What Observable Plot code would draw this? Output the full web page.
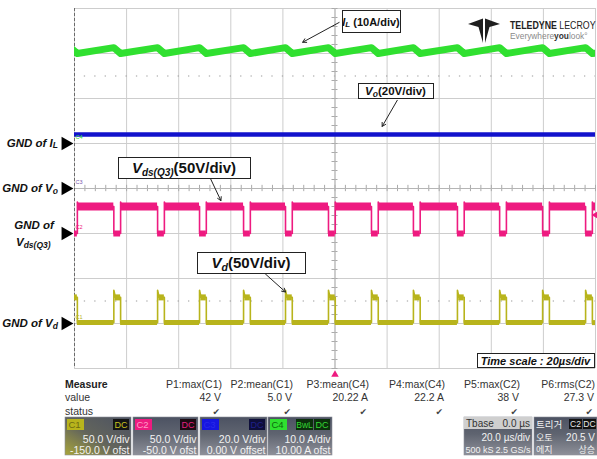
<!DOCTYPE html>
<html><head><meta charset="utf-8">
<script src="https://cdn.jsdelivr.net/npm/d3@7"></script>
<script src="https://cdn.jsdelivr.net/npm/@observablehq/plot@0.6"></script>
<style>
body{margin:0;background:#fff;}
svg{display:block;}
</style>
</head><body><div id="chart"></div>
<script>
// ---- grid (20 µs/div horizontally, 8 divisions vertically)
const timeGrid = [0,20,40,60,80,100,120,140,160,180,200];
const divGrid = [-4,-3,-2,-1,0,1,2,3,4];
// ---- channels: C1 = Vd, C2 = Vds(Q3), C3 = Vo, C4 = IL
const channelIds = ["C1","C2","C3","C4"];
const channelPerDiv = [50, 50, 20, 10];
const channelOffset = [-150, -50, 0, 10];
const channelUnit = ["V","V","V","A"];
const channelColor = ["#b8b41c","#ee1b80","#1212cc","#30e030"];
const channelDivText = ["50.0 V/div","50.0 V/div","20.0 V/div","10.0 A/div"];
const channelOfstText = ["-150.0 V ofst","-50.0 V ofst","0.00 V offset","10.00 A ofst"];
// ---- switching edges (µs) and pulse width
const pulseStarts = [-1.5, 15.1, 31.9, 48.0, 64.9, 81.0, 97.5, 114.0, 130.1, 147.0, 163.2, 179.7, 196.2];
const pulseWidth = 2.6;
// ---- levels
const vdsLevels = [30, 0, 35];   // high, low, overshoot (V)
const vdLevels = [29, 1, 37];    // plateau, low, spike (V)
const ilLevels = [21.3, 20.0];   // peak, trough (A)
const voLevel = 24;              // V
const triggerLevel = 20.5;       // V on C2
// ---- measurements
const measureLabels = ["P1:max(C1)","P2:mean(C1)","P3:mean(C4)","P4:max(C4)","P5:max(C2)","P6:rms(C2)"];
const measureValues = ["42 V","5.0 V","20.22 A","22.2 A","38 V","27.3 V"];

const FONT = '"Liberation Sans", Arial, sans-serif';
const toDiv = (ch, v) => (v + channelOffset[ch]) / channelPerDiv[ch];
const T0 = 0, T1 = 200;

// Vds (C2) waveform
const vdsPts = [], vdsHigh = [], vdsLow = [];
pulseStarts.forEach((s, k) => {
  const e = s + pulseWidth;
  if (s < T0) vdsPts.push({t: T0, v: vdsLevels[1]});
  else { vdsPts.push({t: s, v: vdsLevels[0]}, {t: s, v: vdsLevels[1]}); }
  vdsPts.push({t: e, v: vdsLevels[1]}, {t: e, v: vdsLevels[2]}, {t: e + 0.5, v: vdsLevels[0]});
  vdsLow.push({x1: Math.max(T0, s), x2: e, y: toDiv(1, vdsLevels[1])});
  const next = k + 1 < pulseStarts.length ? pulseStarts[k + 1] : T1;
  vdsHigh.push({x1: e + 0.3, x2: next, y: toDiv(1, vdsLevels[0])});
});
vdsPts.push({t: T1, v: vdsLevels[0]});

// Vd (C1) waveform
const vdPts = [], vdHigh = [], vdLow = [];
pulseStarts.forEach((s, k) => {
  const e = s + pulseWidth;
  if (s < T0) vdPts.push({t: T0, v: vdLevels[0]});
  else { vdPts.push({t: s, v: vdLevels[1]}, {t: s, v: vdLevels[2]}, {t: s + 0.6, v: vdLevels[0]}); }
  vdPts.push({t: e, v: vdLevels[0]}, {t: e, v: vdLevels[1]});
  vdHigh.push({x1: Math.max(T0, s + 0.5), x2: e, y: toDiv(0, vdLevels[0])});
  const next = k + 1 < pulseStarts.length ? pulseStarts[k + 1] : T1;
  vdLow.push({x1: e, x2: next, y: toDiv(0, vdLevels[1])});
});
vdPts.push({t: T1, v: vdLevels[1]});

// IL (C4) sawtooth
const ilPts = [];
pulseStarts.forEach(s => { ilPts.push({t: s, v: ilLevels[0]}, {t: s + pulseWidth, v: ilLevels[1]}); });
ilPts.push({t: 204, v: ilLevels[1] + (ilLevels[0] - ilLevels[1]) * 0.3});

const minorDiv = d3.range(-4, 4.001, 0.2);
const minorT = d3.range(0, 200.001, 4);

const plot = Plot.plot({
  width: 597, height: 459,
  marginLeft: 74, marginRight: 2, marginTop: 8, marginBottom: 91,
  style: {fontFamily: FONT, background: "#fff"},
  x: {domain: [T0, T1], axis: null},
  y: {domain: [-4, 4], axis: null},
  marks: [
    Plot.ruleX(timeGrid, {stroke: "#cdcdcd", strokeWidth: 1}),
    Plot.ruleY(divGrid, {stroke: "#cdcdcd", strokeWidth: 1}),
    Plot.ruleY([2.5, -2.5], {stroke: "#9a9a9a", strokeWidth: 1.2, strokeDasharray: "1.3,9.12", strokeDashoffset: -9.8}),
    Plot.ruleY(minorDiv, {x1: 100 - 1.15, x2: 100 + 1.15, stroke: "#aaaaaa"}),
    Plot.ruleX(minorT, {y1: -0.07, y2: 0.07, stroke: "#aaaaaa"}),
    Plot.ruleY([0], {stroke: "#b5b5b5"}),
    Plot.ruleX([100], {stroke: "#b5b5b5"}),
    Plot.ruleX([0], {stroke: "#6a6a6a", strokeDasharray: "3,2"}),
    // Vd (C1)
    Plot.ruleY(vdLow, {x1: "x1", x2: "x2", y: "y", stroke: channelColor[0], strokeWidth: 5, clip: true}),
    Plot.ruleY(vdHigh, {x1: "x1", x2: "x2", y: "y", stroke: channelColor[0], strokeWidth: 6, clip: true}),
    Plot.line(vdPts, {x: "t", y: d => toDiv(0, d.v), stroke: channelColor[0], strokeWidth: 1.6, clip: true}),
    // Vds (C2)
    Plot.ruleY(vdsHigh, {x1: "x1", x2: "x2", y: "y", stroke: channelColor[1], strokeWidth: 8, clip: true}),
    Plot.ruleY(vdsLow, {x1: "x1", x2: "x2", y: "y", stroke: channelColor[1], strokeWidth: 6, clip: true}),
    Plot.line(vdsPts, {x: "t", y: d => toDiv(1, d.v), stroke: channelColor[1], strokeWidth: 1.6, clip: true}),
    // Vo (C3)
    Plot.ruleY([toDiv(2, voLevel)], {x1: T0, x2: T1, stroke: channelColor[2], strokeWidth: 4.5}),
    // IL (C4)
    Plot.line(ilPts, {x: "t", y: d => toDiv(3, d.v), stroke: channelColor[3], strokeWidth: 7, strokeLinejoin: "round", clip: true}),
    // ground markers
    Plot.dot(channelIds, {x: () => T0, y: (d, i) => toDiv(i, 0), symbol: "triangle", r: 5.1, rotate: 90, fill: "black", stroke: "none", dx: -9}),
    Plot.text(channelIds, {x: () => T0, y: (d, i) => toDiv(i, 0), text: d => d, fontSize: 5.5, fill: (d, i) => i === 2 ? "#7a5ab0" : channelColor[i], dx: 1, dy: -6, textAnchor: "start"}),
    // trigger level & position
    Plot.dot([triggerLevel], {x: () => T1, y: d => toDiv(1, d), symbol: "triangle", rotate: -90, r: 2.6, fill: channelColor[1], stroke: "none", dx: 0}),
    Plot.dot([0], {x: () => 100, y: () => -4, symbol: "triangle", r: 2.8, fill: channelColor[1], stroke: "none", dy: 6}),
    // annotation arrows
    Plot.arrow([
      {x1: 101.6, y1: 3.69, x2: 87.6, y2: 3.25},
      {x1: 123.9, y1: 1.96, x2: 118.1, y2: 1.38},
      {x1: 52.2, y1: 0.22, x2: 56.2, y2: -0.27},
      {x1: 73.3, y1: -1.90, x2: 81.0, y2: -2.30}
    ], {x1: "x1", y1: "y1", x2: "x2", y2: "y2", stroke: "#222", strokeWidth: 1, headLength: 6})
  ]
});
document.getElementById("chart").appendChild(plot);

const svg = d3.select(plot);
const X = plot.scale("x"), Y = plot.scale("y");
const g = svg.append("g").attr("text-anchor", "start").attr("font-family", FONT);

// --- labeled boxes with mixed styles
function richText(parent, x, y, parts, anchor) {
  const t = parent.append("text").attr("x", x).attr("y", y).attr("text-anchor", anchor || "middle").attr("fill", "#111");
  parts.forEach(p => {
    const s = t.append("tspan").text(p.s).attr("font-size", p.size).attr("font-weight", p.w || "bold").attr("font-style", p.i ? "italic" : "normal");
    if (p.dy) s.attr("dy", p.dy);
  });
  return t;
}
function box(x, y, w, h) {
  g.append("rect").attr("x", x + 0.5).attr("y", y + 0.5).attr("width", w).attr("height", h)
    .attr("fill", "#fff").attr("stroke", "#222").attr("stroke-width", 1);
}
box(342, 10, 58, 22);
richText(g, 371, 25.5, [{s: "I", size: 11, i: true}, {s: "L", size: 8, i: true, dy: 1}, {s: " (10A/div)", size: 11, dy: -1}]);
box(358, 83, 75, 15);
richText(g, 395.5, 95, [{s: "V", size: 11.5, i: true}, {s: "o", size: 8.5, i: true, dy: 1.5}, {s: "(20V/div)", size: 11.5, dy: -1.5}]);
box(118, 157, 132, 21);
richText(g, 184, 173, [{s: "V", size: 15, i: true}, {s: "ds(Q3)", size: 10, i: true, dy: 3}, {s: "(50V/div)", size: 15, dy: -3}]);
box(197, 252, 108, 21);
richText(g, 251, 268, [{s: "V", size: 15, i: true}, {s: "d", size: 10.5, i: true, dy: 2.5}, {s: "(50V/div)", size: 15, dy: -2.5}]);
box(477, 353, 117, 14);
richText(g, 535.5, 364.5, [{s: "Time scale : 20µs/div", size: 11, i: true}]);

// --- ground labels
const gy = i => Y.apply(toDiv(i, 0));
richText(g, 58, gy(3) + 4, [{s: "GND of I", size: 11.5, i: true}, {s: "L", size: 8.5, i: true, dy: 1}], "end");
richText(g, 58, gy(2) + 4, [{s: "GND of V", size: 11.5, i: true}, {s: "o", size: 8.5, i: true, dy: 1.5}], "end");
richText(g, 34, gy(1) - 4, [{s: "GND of", size: 11.5, i: true}], "middle");
richText(g, 16, gy(1) + 13, [{s: "V", size: 11.5, i: true}, {s: "ds(Q3)", size: 8.5, i: true, dy: 2}], "start");
richText(g, 58, gy(0) + 4, [{s: "GND of V", size: 11.5, i: true}, {s: "d", size: 8.5, i: true, dy: 1.5}], "end");

// --- logo
const lg = g.append("g").attr("fill", "#1e1e1e");
lg.append("path").attr("d", "M468,24 L483,18.5 L483,43 L478.5,27 Z");
lg.append("path").attr("d", "M500,24 L485,18.5 L485,43 L489.5,27 Z");
const lt = g.append("text").attr("transform", "translate(510,28.5) scale(0.8,1)").attr("font-size", 11).attr("fill", "#222").attr("text-anchor", "start");
lt.append("tspan").text("TELEDYNE").attr("font-weight", "bold");
lt.append("tspan").text(" LECROY");
const lt2 = g.append("text").attr("transform", "translate(510,38.5) scale(0.88,1)").attr("font-size", 9.5).attr("fill", "#8a8a8a").attr("text-anchor", "start");
lt2.append("tspan").text("Everywhere");
lt2.append("tspan").text("you").attr("font-weight", "bold").attr("fill", "#333");
lt2.append("tspan").text("look°");

// --- measurement table
const mt = g.append("g").attr("font-size", 10.5).attr("fill", "#333");
mt.append("text").attr("x", 65).attr("y", 388).text("Measure").attr("font-weight", "bold").attr("fill", "#222");
mt.append("text").attr("x", 65).attr("y", 401).text("value");
mt.append("text").attr("x", 65).attr("y", 414.5).text("status");
const colRight = [222, 293, 369, 445, 520, 595];
measureLabels.forEach((s, i) => {
  mt.append("text").attr("x", colRight[i]).attr("y", 388).attr("text-anchor", "end").text(s);
  mt.append("text").attr("x", colRight[i] - 1).attr("y", 401).attr("text-anchor", "end").text(measureValues[i]);
  mt.append("text").attr("x", colRight[i] - 2).attr("y", 414.5).attr("text-anchor", "end").attr("font-family", "DejaVu Sans").attr("font-size", 9).attr("fill", "#444").text("✔");
});

// --- channel boxes
const defs = svg.append("defs");
const gr1 = defs.append("linearGradient").attr("id", "gC1").attr("x1", 1).attr("y1", 0).attr("x2", 0).attr("y2", 1);
gr1.append("stop").attr("offset", "0%").attr("stop-color", "#4c5262");
gr1.append("stop").attr("offset", "55%").attr("stop-color", "#63655c");
gr1.append("stop").attr("offset", "100%").attr("stop-color", "#a9a63a");
const gr2 = defs.append("linearGradient").attr("id", "gCh").attr("x1", 0).attr("y1", 0).attr("x2", 0).attr("y2", 1);
gr2.append("stop").attr("offset", "0%").attr("stop-color", "#4c5262");
gr2.append("stop").attr("offset", "45%").attr("stop-color", "#5f6470");
gr2.append("stop").attr("offset", "100%").attr("stop-color", "#8e9099");

const boxX = [65, 133, 200, 268], boxW = [66, 65, 67, 64];
const chipText = ["#6e6c10", "#ff9cc8", "#2a2ae8", "#0b6a0b"];
const dcBg = ["#141414", "#1c0a12", "#0e0e3a", "#0b300b"];
const dcText = ["#c8c420", "#e0207e", "#20208a", "#35d835"];
channelIds.forEach((id, i) => {
  const x = boxX[i], w = boxW[i], y = 417, h = 38;
  g.append("rect").attr("x", x).attr("y", y).attr("width", w).attr("height", h).attr("fill", i === 0 ? "url(#gC1)" : "url(#gCh)").attr("stroke", "#8d909a").attr("stroke-width", 0.6);
  g.append("rect").attr("x", x + 2).attr("y", y + 2).attr("width", 17).attr("height", 11).attr("fill", channelColor[i] === "#1212cc" ? "#1616e0" : channelColor[i]);
  g.append("text").attr("x", x + 3.5).attr("y", y + 11).attr("font-size", 9.5).attr("fill", chipText[i]).text(id);
  g.append("rect").attr("x", x + w - 18).attr("y", y + 2).attr("width", 16).attr("height", 11).attr("fill", dcBg[i]);
  g.append("text").attr("x", x + w - 10).attr("y", y + 11).attr("font-size", 9).attr("text-anchor", "middle").attr("fill", dcText[i]).text("DC");
  if (i === 3) {
    g.append("rect").attr("x", x + w - 36).attr("y", y + 2).attr("width", 17).attr("height", 11).attr("fill", dcBg[i]);
    g.append("text").attr("x", x + w - 27.5).attr("y", y + 11).attr("font-size", 8.5).attr("text-anchor", "middle").attr("fill", dcText[i]).text("BwL");
  }
  g.append("text").attr("x", x + w - 1.5).attr("y", y + 25.5).attr("font-size", 10.5).attr("text-anchor", "end").attr("fill", "#f2f2f2").text(channelDivText[i]);
  g.append("text").attr("x", x + w - 1.5).attr("y", y + 36.5).attr("font-size", 10.5).attr("text-anchor", "end").attr("fill", "#f2f2f2").text(channelOfstText[i]);
});

// --- timebase box
g.append("rect").attr("x", 464).attr("y", 417).attr("width", 68).attr("height", 38).attr("fill", "url(#gCh)").attr("stroke", "#8d909a").attr("stroke-width", 0.6);
g.append("rect").attr("x", 464).attr("y", 417).attr("width", 68).attr("height", 12).attr("fill", "#cfcfcf");
const tb = g.append("g").attr("font-size", 10);
tb.append("text").attr("x", 466).attr("y", 427).attr("fill", "#333").text("Tbase");
tb.append("text").attr("x", 530).attr("y", 427).attr("text-anchor", "end").attr("fill", "#333").text("0.0 µs");
tb.append("text").attr("x", 530).attr("y", 440.5).attr("text-anchor", "end").attr("fill", "#f2f2f2").text("20.0 µs/div");
tb.append("text").attr("x", 465.5).attr("y", 452.5).attr("font-size", 9).attr("fill", "#f2f2f2").text("500 kS");
tb.append("text").attr("x", 530.5).attr("y", 452.5).attr("font-size", 9).attr("text-anchor", "end").attr("fill", "#f2f2f2").text("2.5 GS/s");

// --- trigger box
g.append("rect").attr("x", 534).attr("y", 417).attr("width", 63).attr("height", 38).attr("fill", "url(#gCh)").attr("stroke", "#8d909a").attr("stroke-width", 0.6);
const tr = g.append("g").attr("font-size", 10).attr("fill", "#f2f2f2");
tr.append("text").attr("x", 536).attr("y", 427.5).attr("font-family", "Noto Sans CJK KR").attr("font-size", 9.5).text("트리거");
tr.append("rect").attr("x", 569).attr("y", 419).attr("width", 13).attr("height", 10).attr("fill", "#111");
tr.append("text").attr("x", 575.5).attr("y", 427).attr("text-anchor", "middle").attr("font-size", 8.5).attr("fill", "#e8e8e8").text("C2");
tr.append("rect").attr("x", 583).attr("y", 419).attr("width", 13).attr("height", 10).attr("fill", "#111");
tr.append("text").attr("x", 589.5).attr("y", 427).attr("text-anchor", "middle").attr("font-size", 8.5).attr("fill", "#e8e8e8").text("DC");
tr.append("text").attr("x", 536).attr("y", 441).attr("font-family", "Noto Sans CJK KR").attr("font-size", 9).text("오토");
tr.append("text").attr("x", 595).attr("y", 440.5).attr("text-anchor", "end").text(triggerLevel.toFixed(1) + " V");
tr.append("text").attr("x", 536).attr("y", 453).attr("font-family", "Noto Sans CJK KR").attr("font-size", 9).text("에지");
tr.append("text").attr("x", 595).attr("y", 453).attr("text-anchor", "end").attr("font-family", "Noto Sans CJK KR").attr("font-size", 9).text("상승");
</script>
</body></html>
